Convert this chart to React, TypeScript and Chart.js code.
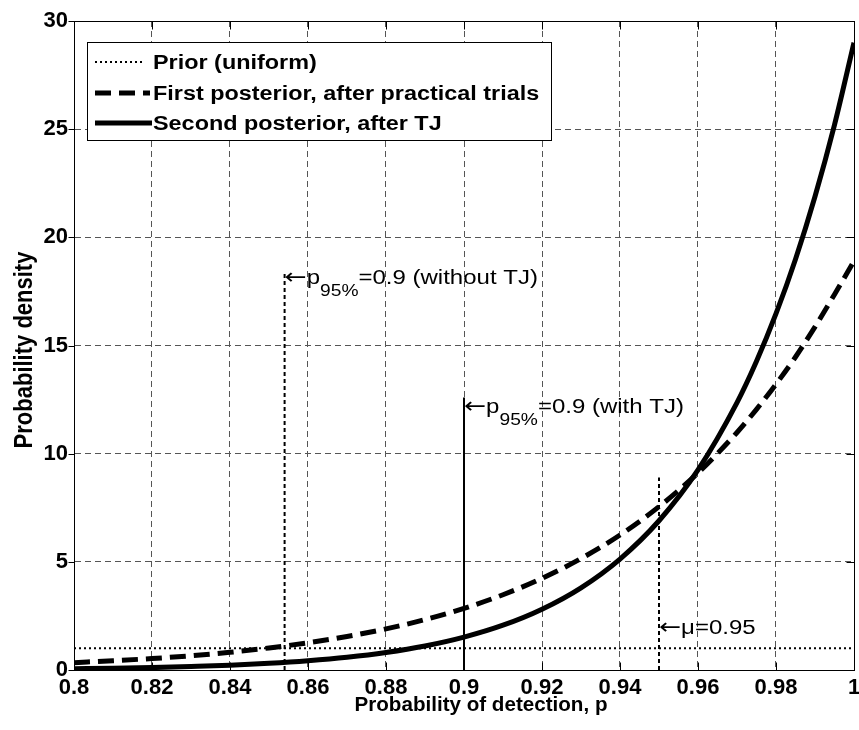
import React, { useEffect, useRef } from 'react';
import { Chart, registerables } from 'chart.js';

Chart.register(...registerables);

// ---- data ----
const pValues = [0.80, 0.81, 0.82, 0.83, 0.84, 0.85, 0.86, 0.87, 0.88, 0.89, 0.90, 0.91, 0.92, 0.93, 0.94, 0.95, 0.96, 0.97, 0.975, 0.98, 0.985, 0.99, 0.995, 1.00];
const firstPosterior = [0.34, 0.43, 0.53, 0.66, 0.82, 1.02, 1.26, 1.55, 1.90, 2.33, 2.85, 3.48, 4.24, 5.15, 6.24, 7.55, 9.11, 10.98, 12.05, 13.21, 14.47, 15.86, 17.36, 18.9];
const secondPosterior = [0.06, 0.08, 0.11, 0.16, 0.22, 0.31, 0.43, 0.59, 0.81, 1.11, 1.52, 2.07, 2.81, 3.80, 5.13, 6.90, 9.25, 12.36, 14.27, 16.47, 18.99, 21.89, 25.20, 29.0];
const priorX = [0.8, 1.0];
const priorY = [1, 1];

const legendLabels = ['Prior (uniform)', 'First posterior, after practical trials', 'Second posterior, after TJ'];

const markerX = [0.854, 0.9, 0.95];
const markerTop = [18.4, 12.6, 8.9];
const markerLabelY = [18.17, 12.2, 1.99];
const markerSymbol = ['p', 'p', 'μ'];
const markerSub = ['95%', '95%', ''];
const markerTail = ['=0.9 (without TJ)', '=0.9 (with TJ)', '=0.95'];

const xTicks = [0.8, 0.82, 0.84, 0.86, 0.88, 0.9, 0.92, 0.94, 0.96, 0.98, 1.0];
const xTickLabels = ['0.8', '0.82', '0.84', '0.86', '0.88', '0.9', '0.92', '0.94', '0.96', '0.98', '1'];
const yTicks = [0, 5, 10, 15, 20, 25, 30];
const yTickLabels = ['0', '5', '10', '15', '20', '25', '30'];

const xTitle = 'Probability of detection, p';
const yTitle = 'Probability density';

const FONT = '"Liberation Sans", Arial, Helvetica, sans-serif';

const overlayPlugin = {
  id: 'overlay',
  afterDraw(chart: any) {
    const ctx = chart.ctx as CanvasRenderingContext2D;
    const { left, right, top, bottom } = chart.chartArea;
    const xs = chart.scales.x;
    const ys = chart.scales.y;
    const L = Math.round(left) + 0.5;
    const R = Math.round(right) + 0.5;
    const T = Math.round(top) + 0.5;
    const B = Math.round(bottom) + 0.5;

    ctx.save();
    ctx.strokeStyle = '#000';
    ctx.fillStyle = '#000';
    ctx.lineWidth = 1;
    ctx.setLineDash([]);
    // axes box
    ctx.strokeRect(L, T, R - L, B - T);
    // tick marks
    ctx.beginPath();
    xTicks.forEach((v) => {
      const px = Math.round(xs.getPixelForValue(v)) + 0.5;
      ctx.moveTo(px, T); ctx.lineTo(px, T + 8);
      ctx.moveTo(px, B); ctx.lineTo(px, B - 8);
    });
    yTicks.forEach((v) => {
      const py = Math.round(ys.getPixelForValue(v)) + 0.5;
      ctx.moveTo(L - 6, py); ctx.lineTo(L, py);
      ctx.moveTo(R - 8, py); ctx.lineTo(R, py);
    });
    ctx.stroke();

    // marker annotations
    markerX.forEach((mx, i) => {
      const x0 = xs.getPixelForValue(mx);
      const yc = ys.getPixelForValue(markerLabelY[i]);
      ctx.save();
      ctx.translate(x0, yc + 7);
      ctx.scale(1.2, 1);
      ctx.textAlign = 'left';
      ctx.textBaseline = 'alphabetic';
      ctx.font = `22px "DejaVu Sans", sans-serif`;
      ctx.fillText('←', 0, 0);
      let w = ctx.measureText('←').width;
      ctx.font = `20px ${FONT}`;
      ctx.fillText(markerSymbol[i], w, 0);
      w += ctx.measureText(markerSymbol[i]).width;
      if (markerSub[i]) {
        ctx.font = `16px ${FONT}`;
        ctx.fillText(markerSub[i], w, 12);
        w += ctx.measureText(markerSub[i]).width;
        ctx.font = `20px ${FONT}`;
      }
      ctx.fillText(markerTail[i], w, 0);
      ctx.restore();
    });

    // legend
    const lx = 87, ly = 42, lw = 464, lh = 98;
    ctx.fillStyle = '#fff';
    ctx.fillRect(lx, ly, lw, lh);
    ctx.strokeStyle = '#000';
    ctx.lineWidth = 1;
    ctx.strokeRect(lx + 0.5, ly + 0.5, lw, lh);
    const rows = [62, 93, 123];
    const sampleEnds = [145, 150, 152];
    rows.forEach((ry, i) => {
      const ds = chart.data.datasets[i];
      ctx.save();
      ctx.strokeStyle = '#000';
      ctx.lineWidth = ds.borderWidth;
      ctx.setLineDash(ds.borderDash || []);
      ctx.beginPath();
      ctx.moveTo(95, ry);
      ctx.lineTo(sampleEnds[i], ry);
      ctx.stroke();
      ctx.restore();
      ctx.save();
      ctx.fillStyle = '#000';
      ctx.font = `bold 20px ${FONT}`;
      ctx.textAlign = 'left';
      ctx.textBaseline = 'alphabetic';
      ctx.translate(153, ry + 7);
      ctx.scale(1.17, 1);
      ctx.fillText(legendLabels[i], 0, 0);
      ctx.restore();
    });

    // axis titles
    ctx.fillStyle = '#000';
    ctx.save();
    ctx.font = `bold 20px ${FONT}`;
    ctx.textAlign = 'center';
    ctx.textBaseline = 'alphabetic';
    ctx.translate(481, 711);
    ctx.scale(1.03, 1);
    ctx.fillText(xTitle, 0, 0);
    ctx.restore();

    ctx.save();
    ctx.font = `bold 22px ${FONT}`;
    ctx.textAlign = 'center';
    ctx.textBaseline = 'alphabetic';
    ctx.translate(32, 350);
    ctx.scale(1.16, 1);
    ctx.rotate(-Math.PI / 2);
    ctx.fillText(yTitle, 0, 0);
    ctx.restore();

    ctx.restore();
  },
};

export default function App() {
  const canvasRef = useRef<HTMLCanvasElement | null>(null);

  useEffect(() => {
    if (!canvasRef.current) return;
    const curve = (ys: number[]) => pValues.map((p, i) => ({ x: p, y: ys[i] }));
    const markerDatasets = markerX.map((mx, i) => ({
      label: 'marker' + i,
      data: [{ x: mx, y: 0 }, { x: mx, y: markerTop[i] }],
      borderColor: '#000',
      borderWidth: 2,
      borderDash: i === 1 ? [] : [4, 3],
      pointRadius: 0,
      clip: 0,
    }));
    const chart = new Chart(canvasRef.current, {
      type: 'line',
      data: {
        datasets: [
          {
            label: legendLabels[0],
            data: priorX.map((x, i) => ({ x, y: priorY[i] })),
            borderColor: '#000',
            borderWidth: 2,
            borderDash: [2, 3],
            pointRadius: 0,
            clip: 0,
          },
          {
            label: legendLabels[1],
            data: curve(firstPosterior),
            borderColor: '#000',
            borderWidth: 5,
            borderDash: [16, 8],
            pointRadius: 0,
            cubicInterpolationMode: 'monotone',
            clip: 0,
          },
          {
            label: legendLabels[2],
            data: curve(secondPosterior),
            borderColor: '#000',
            borderWidth: 5,
            pointRadius: 0,
            cubicInterpolationMode: 'monotone',
            clip: 0,
          },
          ...markerDatasets,
        ] as any,
      },
      options: {
        animation: false,
        responsive: false,
        maintainAspectRatio: false,
        parsing: false as any,
        layout: { padding: { top: 21, right: 5, left: 0, bottom: 0 } },
        plugins: {
          legend: { display: false },
          tooltip: { enabled: false },
        },
        scales: {
          x: {
            type: 'linear',
            min: 0.8,
            max: 1.0,
            afterBuildTicks: (scale: any) => {
              scale.ticks = xTicks.map((v) => ({ value: v }));
            },
            afterFit: (scale: any) => {
              scale.height = 60;
              scale.paddingLeft = 0;
              scale.paddingRight = 0;
            },
            ticks: {
              autoSkip: false,
              maxRotation: 0,
              padding: 5,
              color: '#000',
              font: { family: FONT, size: 22, weight: 'bold' },
              callback: (_v: any, idx: number) => xTickLabels[idx],
            },
            grid: { color: '#555', lineWidth: 1, drawTicks: false },
            border: { display: true, color: '#000', width: 1, dash: [6, 4] },
          },
          y: {
            type: 'linear',
            min: 0,
            max: 30,
            afterBuildTicks: (scale: any) => {
              scale.ticks = yTicks.map((v) => ({ value: v }));
            },
            afterFit: (scale: any) => {
              scale.width = 74;
              scale.paddingTop = 0;
              scale.paddingBottom = 0;
            },
            ticks: {
              autoSkip: false,
              padding: 6,
              color: '#000',
              font: { family: FONT, size: 22, weight: 'bold' },
              callback: (_v: any, idx: number) => yTickLabels[idx],
            },
            grid: { color: '#555', lineWidth: 1, drawTicks: false },
            border: { display: true, color: '#000', width: 1, dash: [6, 4] },
          },
        },
      } as any,
      plugins: [overlayPlugin],
    });
    return () => chart.destroy();
  }, []);

  return (
    <div style={{ position: 'fixed', left: 0, top: 0, width: 859, height: 730, background: '#fff' }}>
      <canvas ref={canvasRef} width={859} height={730} style={{ display: 'block', width: 859, height: 730 }} />
    </div>
  );
}
